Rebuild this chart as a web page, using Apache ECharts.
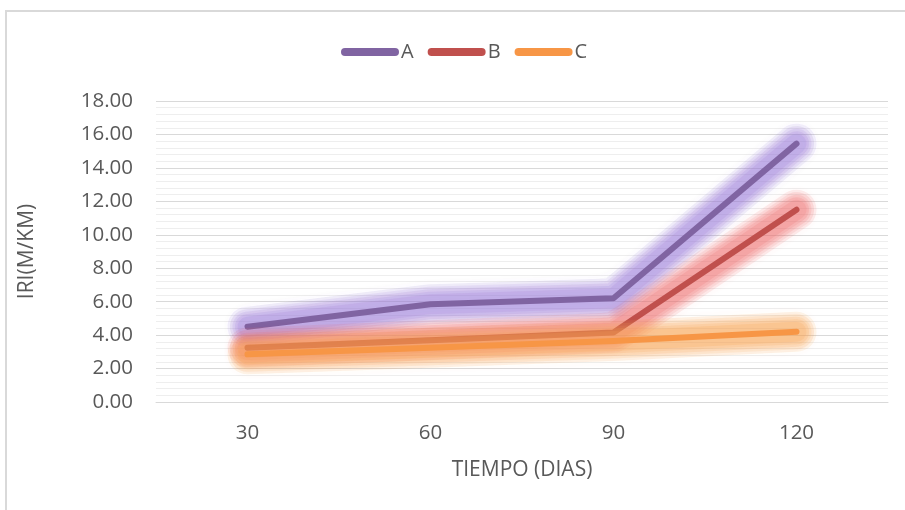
<!DOCTYPE html>
<html>
<head>
<meta charset="utf-8">
<script src="https://cdn.jsdelivr.net/npm/echarts@6/dist/echarts.min.js"></script>
<style>
html,body{margin:0;padding:0;background:#fff;}
#chart{width:905px;height:510px;}
</style>
</head>
<body>
<div id="chart"></div>
<script>
const categories = ['30', '60', '90', '120'];
const seriesA = [4.5, 5.85, 6.2, 15.45];
const seriesB = [3.25, 3.7, 4.15, 11.5];
const seriesC = [2.85, 3.25, 3.65, 4.2];
const names = ['A', 'B', 'C'];
const yMin = 0, yMax = 18, yStep = 2;

const lineColors = ['#8064a2', '#c0504d', '#f79646'];
const glowRGB = ['160,128,220', '240,115,115', '250,165,85'];
const dataSets = [seriesA, seriesB, seriesC];
const glowLayers = [{w: 40, a: 0.12}, {w: 35, a: 0.14}, {w: 30, a: 0.16}, {w: 25, a: 0.18}, {w: 20, a: 0.2}];

const chart = echarts.init(document.getElementById('chart'), null, {renderer: 'canvas'});
const series = [];
dataSets.forEach((d, i) => {
  glowLayers.forEach((g, k) => {
    const c = 'rgba(' + glowRGB[i] + ',' + g.a + ')';
    series.push({
      name: names[i] + '_glow' + k, type: 'line', data: d, symbol: 'none', silent: true,
      color: c,
      lineStyle: {width: g.w, color: c, cap: 'round', join: 'round',
        shadowBlur: 16, shadowColor: c},
      z: 2
    });
  });
  series.push({
    name: names[i], type: 'line', data: d, symbol: 'none',
    color: lineColors[i],
    lineStyle: {width: 6, color: lineColors[i], cap: 'round', join: 'round'},
    z: 2
  });
});

const font = '"Open Sans", sans-serif';
chart.setOption({
  animation: false,
  backgroundColor: '#fff',
  graphic: [{
    type: 'rect', silent: true, z: 0,
    shape: {x: 6, y: 11, width: 1200, height: 1000},
    style: {fill: null, stroke: '#d9d9d9', lineWidth: 2}
  }],
  legend: {
    data: names,
    left: 336, top: 37,
    itemWidth: 58, itemHeight: 8, itemGap: 14,
    icon: 'path://M4,0 L54,0 A4,4 0 0 1 54,8 L4,8 A4,4 0 0 1 4,0 Z',
    textStyle: {fontFamily: font, fontSize: 20, color: '#595959', padding: [0, 0, 0, -3]}
  },
  grid: {left: 156, right: 17, top: 101, bottom: 108, containLabel: false},
  xAxis: {
    type: 'category', data: categories, boundaryGap: true,
    name: 'TIEMPO (DIAS)', nameLocation: 'middle', nameGap: 58,
    nameTextStyle: {fontFamily: font, fontSize: 21, color: '#595959'},
    axisLine: {show: true, lineStyle: {color: '#d9d9d9', width: 1}},
    axisTick: {show: false},
    axisLabel: {fontFamily: font, fontSize: 20.5, color: '#595959', margin: 21}
  },
  yAxis: {
    type: 'value', min: yMin, max: yMax, interval: yStep,
    name: 'IRI(M/KM)', nameLocation: 'middle', nameGap: 118, nameRotate: 90,
    nameTextStyle: {fontFamily: font, fontSize: 21, color: '#595959'},
    axisLine: {show: false}, axisTick: {show: false},
    axisLabel: {fontFamily: font, fontSize: 20.5, color: '#595959', margin: 23,
      formatter: v => v.toFixed(2)},
    splitLine: {show: true, lineStyle: {color: '#d9d9d9', width: 1}},
    minorTick: {show: false, splitNumber: 5},
    minorSplitLine: {show: true, lineStyle: {color: '#eeeeee', width: 1}}
  },
  series: series
});
</script>
</body>
</html>
